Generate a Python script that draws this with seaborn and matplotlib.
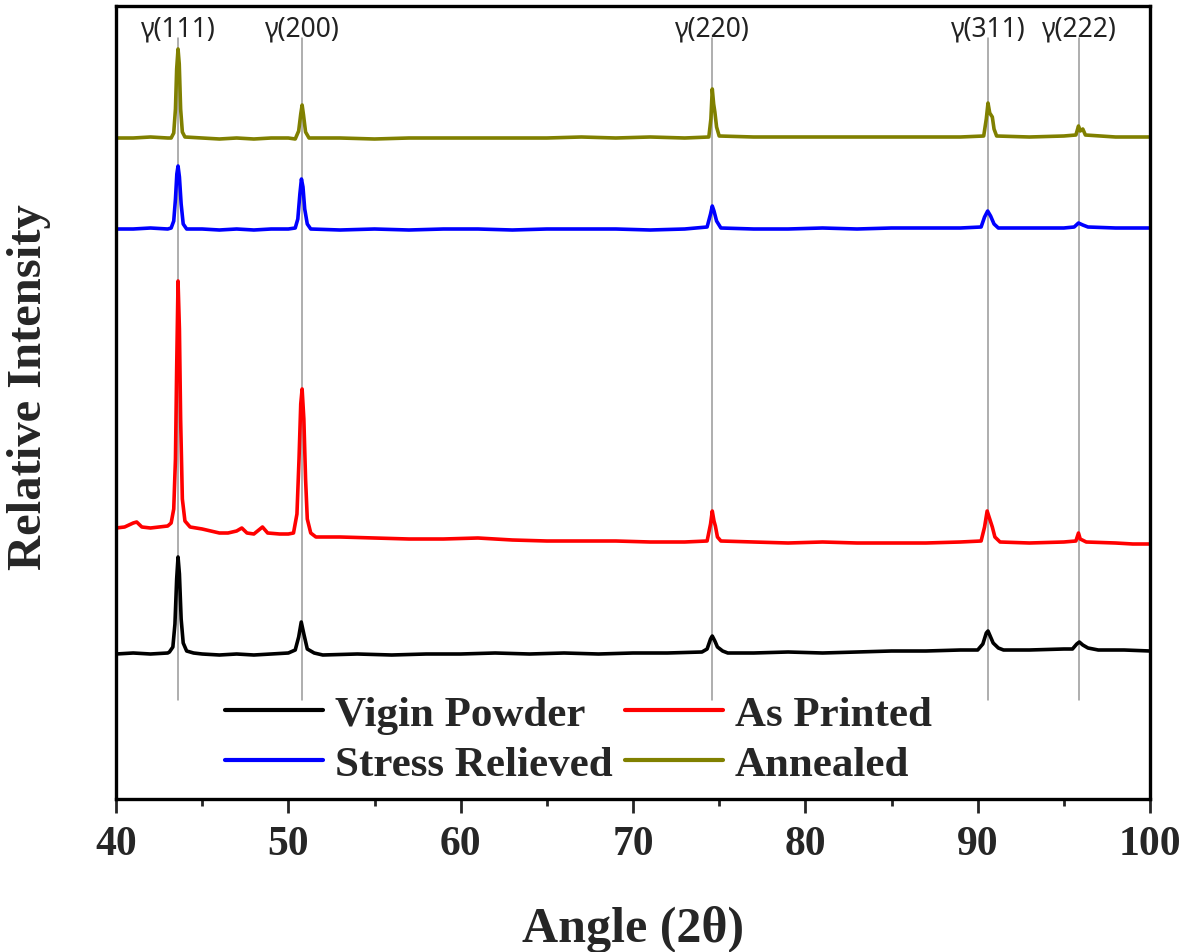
import matplotlib
matplotlib.use("Agg")
import matplotlib.pyplot as plt
import seaborn as sns
import pandas as pd

# ---------------- data (arbitrary intensity units, stacked) ----------------
virgin_powder = [
    (40, 145), (41, 146), (42, 145), (43, 146), (43.1, 147), (43.3, 152), (43.42, 175), (43.52, 220),
    (43.6, 242), (43.68, 225), (43.78, 180), (43.9, 156), (44.1, 148), (44.5, 146), (45, 145), (46, 144),
    (47, 145), (48, 144), (49, 145), (50, 146), (50.4, 149), (50.6, 162), (50.75, 177), (50.9, 165),
    (51.1, 150), (51.5, 146), (52, 144), (54, 145), (56, 144), (58, 145), (60, 145), (62, 146),
    (64, 145), (66, 146), (68, 145), (70, 146), (72, 146), (74, 147), (74.3, 150), (74.5, 160),
    (74.6, 163), (74.75, 158), (74.9, 152), (75.2, 148), (75.5, 146), (77, 146), (79, 147), (81, 146),
    (83, 147), (85, 148), (87, 148), (89, 149), (90, 149), (90.3, 155), (90.5, 166), (90.6, 168),
    (90.75, 162), (90.9, 156), (91.2, 151), (91.5, 149), (93, 149), (95, 150), (95.5, 150),
    (95.75, 155), (95.9, 157), (96.1, 154), (96.4, 151), (97, 149), (98.5, 149), (100, 148),
]

as_printed = [
    (40, 271), (40.5, 272), (41, 276), (41.2, 277), (41.5, 272), (42, 271), (42.5, 272), (43, 273),
    (43.2, 276), (43.35, 290), (43.45, 340), (43.52, 430), (43.6, 518), (43.68, 470), (43.75, 380),
    (43.85, 300), (44.0, 278), (44.3, 272), (45, 270), (45.5, 268), (46, 266), (46.5, 266), (47, 268),
    (47.3, 271), (47.6, 266), (48, 265), (48.5, 272), (48.8, 266), (49.5, 265), (50, 265), (50.3, 266),
    (50.5, 285), (50.62, 340), (50.72, 395), (50.8, 410), (50.9, 380), (51.0, 320), (51.1, 280),
    (51.3, 266), (51.6, 262), (53, 262), (55, 261), (57, 260), (59, 260), (61, 261), (63, 259),
    (65, 258), (67, 258), (69, 258), (71, 257), (73, 257), (74.3, 258), (74.5, 275), (74.6, 288),
    (74.7, 278), (74.78, 273), (74.9, 262), (75.1, 258), (77, 257), (79, 256), (81, 257), (83, 256),
    (85, 256), (87, 256), (89, 257), (90.2, 258), (90.4, 272), (90.55, 288), (90.7, 280), (90.85, 272),
    (91.0, 262), (91.3, 257), (93, 256), (95, 257), (95.7, 258), (95.85, 266), (95.95, 260), (96.3, 257),
    (98, 256), (99, 255), (100, 255),
]

stress_relieved = [
    (40, 570), (41, 570), (42, 571), (43, 570), (43.2, 571), (43.35, 578), (43.45, 600), (43.53, 625),
    (43.6, 633), (43.68, 622), (43.78, 595), (43.9, 575), (44.1, 570), (45, 570), (46, 569), (47, 570),
    (48, 569), (49, 570), (50, 570), (50.4, 571), (50.55, 580), (50.67, 605), (50.76, 620), (50.85, 612),
    (50.95, 590), (51.1, 575), (51.3, 570), (53, 569), (55, 570), (57, 569), (59, 570), (61, 570),
    (63, 569), (65, 570), (67, 570), (69, 570), (71, 569), (73, 570), (74.3, 572), (74.5, 585),
    (74.6, 593), (74.7, 588), (74.85, 578), (75.1, 571), (77, 570), (79, 570), (81, 571), (83, 570),
    (85, 571), (87, 571), (89, 571), (90.2, 572), (90.4, 582), (90.58, 588), (90.75, 583), (90.95, 575),
    (91.2, 571), (93, 571), (95, 571), (95.6, 572), (95.85, 576), (96.1, 574), (96.4, 572), (98, 571),
    (100, 571),
]

annealed = [
    (40, 661), (41, 661), (42, 662), (43, 661), (43.2, 661), (43.35, 666), (43.45, 690), (43.52, 730),
    (43.6, 750), (43.67, 735), (43.75, 690), (43.85, 667), (44.0, 662), (45, 661), (46, 660), (47, 661),
    (48, 660), (49, 661), (50, 661), (50.4, 660), (50.6, 668), (50.72, 685), (50.8, 694), (50.88, 684),
    (51.0, 667), (51.2, 661), (53, 661), (55, 660), (57, 661), (59, 661), (61, 661), (63, 661),
    (65, 661), (67, 662), (69, 661), (71, 662), (73, 661), (74.4, 662), (74.52, 680), (74.6, 710),
    (74.68, 695), (74.75, 687), (74.85, 672), (75.0, 663), (77, 662), (79, 662), (81, 662), (83, 662),
    (85, 662), (87, 662), (89, 662), (90.35, 663), (90.5, 680), (90.6, 696), (90.7, 686), (90.85, 682),
    (90.95, 670), (91.1, 663), (93, 662), (95, 663), (95.7, 664), (95.85, 673), (95.95, 668), (96.1, 670),
    (96.25, 664), (98, 662), (100, 662),
]

series_names = ["Vigin Powder", "Stress Relieved", "As Printed", "Annealed"]
series_colors = ["#000000", "#0000FF", "#FF0000", "#808000"]
series_data = [virgin_powder, stress_relieved, as_printed, annealed]

peak_positions = [43.6, 50.8, 74.6, 90.6, 95.9]
peak_labels = ["γ(111)", "γ(200)", "γ(220)", "γ(311)", "γ(222)"]

x_ticks = [40, 50, 60, 70, 80, 90, 100]

# ---------------- build table ----------------
rows = []
for name, data in zip(series_names, series_data):
    for i, (xv, yv) in enumerate(data):
        rows.append({"angle": xv, "intensity": yv, "sample": name, "order": i})
df = pd.DataFrame(rows)

# ---------------- plot ----------------
sns.set_style("white")
plt.rcParams["font.family"] = ["Liberation Serif", "DejaVu Serif"]

fig = plt.figure(figsize=(11.91, 9.53), dpi=100)
ax = fig.add_axes([116 / 1191, 1 - 800 / 953, (1150 - 116) / 1191, (800 - 7) / 953])

for name, color in zip(series_names, series_colors):
    sub = df[df["sample"] == name]
    sns.lineplot(data=sub, x="angle", y="intensity", color=color, lw=2.6,
                 estimator=None, sort=False, ax=ax, label=name)

# reference lines and labels
for pos, lab in zip(peak_positions, peak_labels):
    ax.plot([pos, pos], [99, 761], color="#999999", lw=1.1, zorder=0)
    ax.text(pos, 771, lab, ha="center", va="center", fontsize=19,
            family=["Noto Sans", "DejaVu Sans"], color="#222222")

ax.set_xlim(40, 100)
ax.set_ylim(0, 793)
ax.set_xticks(x_ticks)
ax.set_xticks([45, 55, 65, 75, 85, 95], minor=True)
ax.set_yticks([])
ax.tick_params(axis="x", which="major", direction="out", length=10, width=2, pad=9,
               labelsize=30, bottom=True)
ax.tick_params(axis="x", which="minor", direction="out", length=5, width=2, bottom=True)
for lbl in ax.get_xticklabels():
    lbl.set_fontweight("bold")
for sp in ax.spines.values():
    sp.set_linewidth(2.4)
    sp.set_color("black")

ax.set_xlabel("Angle (2θ)", fontsize=36, fontweight="bold", labelpad=30)
ax.set_ylabel("Relative Intensity", fontsize=35, fontweight="bold")
ax.yaxis.set_label_coords(-0.063, 0.521)

handles, labels = ax.get_legend_handles_labels()
leg = ax.legend(handles, labels, ncol=2, loc="upper left", bbox_to_anchor=(0.1054, 0.131),
                frameon=False, handlelength=2.28, handletextpad=0.28,
                columnspacing=0.28, labelspacing=0.24, borderpad=0, borderaxespad=0,
                prop={"weight": "bold", "size": 31, "family": ["Liberation Serif"]})
for line in leg.get_lines():
    line.set_linewidth(3)

fig.savefig("out.png", dpi=100)
